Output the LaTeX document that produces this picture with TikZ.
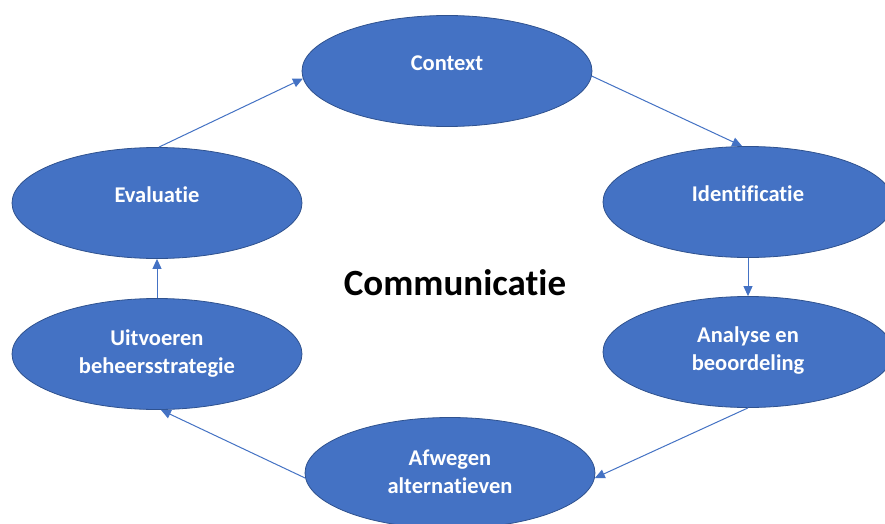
\documentclass[tikz,border=0pt]{standalone}
\usepackage{fontspec}
\setmainfont{Carlito}[Ligatures={NoCommon}]
\usetikzlibrary{shapes.geometric,arrows.meta}
\definecolor{fillblue}{HTML}{4472C4}
\definecolor{edgeblue}{HTML}{2F528F}
\begin{document}
\begin{tikzpicture}[x=1pt,y=1pt,
  phase/.style={ellipse,draw=edgeblue,line width=0.8pt,fill=fillblue,minimum width=290pt,minimum height=111pt,inner sep=0pt},
  phasetext/.style={text=white,font=\fontsize{22.5}{28}\selectfont\bfseries,align=center,inner sep=0pt},
  flow/.style={draw=fillblue,line width=1pt,-{Triangle[length=10pt,width=9pt]}}
]
\clip (0,0) rectangle (885,-524);
\fill[white] (0,0) rectangle (885,-524);
\node[phase] (ctx) at (447,-71) {};
\node[phase] (idf) at (748,-202) {};
\node[phase] (ana) at (748,-352) {};
\node[phase] (afw) at (450,-473) {};
\node[phase] (uit) at (157,-354) {};
\node[phase] (eva) at (157,-203) {};
\node[phasetext] (ctxt) at (447,-63) {Context};
\node[phasetext] (idft) at (748,-194) {Identificatie};
\node[phasetext] (anat) at (748,-351) {Analyse en\\beoordeling};
\node[phasetext] (afwt) at (450,-472) {Afwegen\\alternatieven};
\node[phasetext] (uitt) at (157,-354) {Uitvoeren\\beheersstrategie};
\node[phasetext] (evat) at (157,-195) {Evaluatie};
\node[font=\fontsize{37}{42}\selectfont\bfseries,text=black,inner sep=0pt] (com) at (455,-283) {Communicatie};
\draw[flow] (eva.88) -- (ctx.183);
\draw[flow] (ctx.358) -- (idf.96);
\draw[flow] (idf.south) -- (ana.north);
\draw[flow] (ana.south) -- (afw.358);
\draw[flow] (afw.182) -- (uit.-86);
\draw[flow] (uit.north) -- (eva.south);
\end{tikzpicture}
\end{document}
